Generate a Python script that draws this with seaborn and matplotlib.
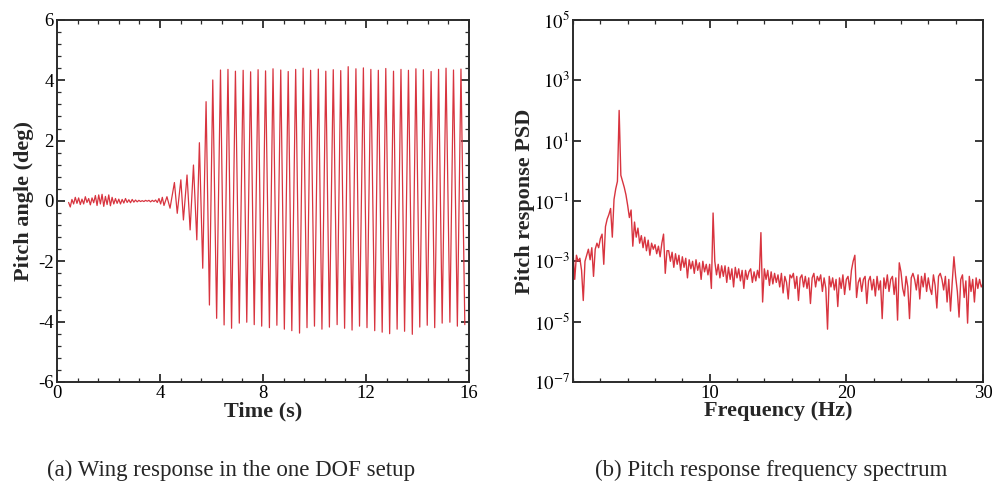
import numpy as np
import pandas as pd
import matplotlib
matplotlib.use("Agg")
import matplotlib.pyplot as plt
import seaborn as sns
from matplotlib.ticker import MultipleLocator, FixedLocator, FuncFormatter, NullLocator

# ---------------- (a) pitch time history ----------------
# small irregular motion before flutter onset, sampled every EARLY_DT seconds
EARLY_T0 = 0.45
EARLY_DT = 0.065
early_pitch = [
    -0.05, -0.20, 0.05, -0.10, 0.12, -0.08, 0.10, -0.12, 0.06, -0.10, 0.14, -0.05, 0.08, -0.13, 0.10,
    -0.06, 0.18, -0.15, 0.20, -0.10, 0.22, -0.18, 0.15, -0.12, 0.20, -0.16, 0.12, -0.10, 0.08,
    -0.08, 0.06, -0.10, 0.05, -0.07, 0.08, -0.05, 0.04, -0.06, 0.05, -0.04, 0.03,
    -0.03, 0.02, -0.02, 0.01, -0.02, 0.02, -0.01, 0.02, -0.03, 0.02, -0.02, 0.03,
    -0.05, 0.08, -0.10, 0.12, -0.15,
]

# successive peaks / troughs of the limit-cycle oscillation (s, deg)
osc_time = [
    4.27, 4.39, 4.56, 4.67, 4.81, 4.91, 5.05, 5.17, 5.30, 5.43, 5.53, 5.66, 5.79, 5.92, 6.05, 6.20,
    6.35, 6.49, 6.64, 6.78, 6.93, 7.08, 7.23, 7.37, 7.52, 7.66, 7.81, 7.95, 8.10, 8.25, 8.39, 8.54,
    8.69, 8.83, 8.98, 9.12, 9.27, 9.42, 9.56, 9.71, 9.85, 10.00, 10.15, 10.29, 10.44, 10.58, 10.73,
    10.88, 11.02, 11.17, 11.31, 11.46, 11.61, 11.75, 11.90, 12.04, 12.19, 12.34, 12.48, 12.63, 12.77,
    12.92, 13.07, 13.21, 13.36, 13.50, 13.65, 13.80, 13.94, 14.09, 14.23, 14.38, 14.53, 14.67, 14.82,
    14.96, 15.11, 15.26, 15.40, 15.55, 15.69, 15.84,
]
osc_pitch = [
    0.14, -0.24, 0.61, -0.41, 0.70, -0.63, 0.86, -0.96, 1.19, -1.29, 1.93, -2.23, 3.29, -3.45, 4.01, -3.89,
    4.34, -4.11, 4.36, -4.22, 4.30, -4.05, 4.33, -4.02, 4.28, -4.10, 4.35, -4.15, 4.31, -4.20, 4.38, -4.12,
    4.34, -4.25, 4.29, -4.30, 4.36, -4.38, 4.40, -4.20, 4.33, -4.15, 4.37, -4.25, 4.30, -4.18, 4.35,
    -4.10, 4.32, -4.22, 4.45, -4.28, 4.38, -4.15, 4.41, -4.20, 4.36, -4.30, 4.33, -4.35, 4.39,
    -4.40, 4.30, -4.25, 4.36, -4.32, 4.33, -4.42, 4.38, -4.18, 4.35, -4.12, 4.29, -4.20, 4.36,
    -4.05, 4.40, -4.02, 4.34, -4.15, 4.37, -4.10,
]

# ---------------- (b) pitch PSD (log10), bins of FREQ_STEP Hz from 0 Hz ----------------
FREQ_STEP = 0.125
psd_log10 = [
    -2.70, -3.60, -2.80, -3.00, -2.90, -3.30, -4.30, -3.00,   # 0 Hz
    -2.80, -2.60, -2.95, -2.55, -3.50, -2.60, -2.40, -2.55,   # 1
    -2.25, -2.10, -3.10, -1.85, -1.60, -1.45, -1.25, -2.20,   # 2
    -0.95, -0.60, -0.35, 2.00, -0.15, -0.35, -0.55, -0.80,    # 3
    -1.15, -1.55, -1.30, -2.50, -1.70, -2.20, -1.90, -2.40,   # 4
    -2.15, -2.55, -2.20, -2.65, -2.30, -2.80, -2.40, -2.60,   # 5
    -2.45, -2.75, -2.50, -2.85, -2.40, -2.10, -3.40, -2.65,   # 6
    -2.65, -3.00, -2.70, -3.20, -2.75, -3.10, -2.80, -3.30,   # 7
    -2.85, -3.20, -2.90, -3.55, -2.95, -3.25, -3.00, -3.40,   # 8
    -2.95, -3.30, -3.05, -3.60, -3.00, -3.35, -3.10, -3.45,   # 9
    -3.10, -3.90, -1.40, -3.00, -3.45, -3.10, -3.55, -3.15,   # 10
    -3.50, -3.15, -3.70, -3.20, -3.60, -3.25, -3.85, -3.20,   # 11
    -3.55, -3.25, -3.65, -3.30, -3.90, -3.30, -3.60, -3.35,   # 12
    -3.25, -3.70, -3.35, -3.65, -3.30, -3.55, -2.05, -4.35,   # 13
    -3.25, -3.60, -3.30, -3.80, -3.35, -3.75, -3.40, -3.70,   # 14
    -3.45, -3.85, -3.40, -4.05, -3.50, -3.70, -4.25, -3.45,   # 15
    -3.55, -3.40, -3.90, -3.50, -4.30, -3.55, -3.45, -3.85,   # 16
    -3.50, -3.90, -3.55, -4.40, -3.55, -3.40, -3.85, -3.50,   # 17
    -3.65, -3.45, -4.00, -3.55, -3.90, -5.25, -3.50, -3.85,   # 18
    -3.55, -3.95, -3.60, -4.50, -3.55, -3.90, -3.45, -4.10,   # 19
    -3.60, -3.50, -3.95, -3.30, -3.00, -2.80, -4.20, -3.70,   # 20
    -3.55, -4.00, -3.60, -3.50, -4.40, -3.65, -3.50, -3.95,   # 21
    -3.60, -4.15, -3.50, -3.95, -3.65, -4.90, -3.55, -3.90,   # 22
    -3.45, -4.00, -3.60, -3.50, -4.10, -3.55, -4.95, -3.05,   # 23
    -3.35, -3.90, -4.15, -3.50, -3.85, -4.90, -3.55, -3.40,   # 24
    -3.60, -3.95, -3.45, -4.25, -3.50, -3.85, -3.40, -4.00,   # 25
    -3.55, -3.90, -4.10, -3.45, -3.80, -4.55, -3.50, -3.40,   # 26
    -3.60, -3.95, -3.50, -4.35, -3.60, -4.65, -3.70, -2.85,   # 27
    -3.50, -4.00, -4.85, -3.60, -3.45, -4.20, -3.65, -5.05,   # 28
    -3.50, -4.00, -3.60, -4.35, -3.55, -3.90, -3.60, -3.85,   # 29
    -3.75,
]

LINE_RED = "#d8343f"
AX_COL = "#2b2b2b"

sns.set_style("ticks")
plt.rcParams["font.family"] = ["Liberation Serif", "DejaVu Serif"]
plt.rcParams["mathtext.fontset"] = "stix"
plt.rcParams["axes.unicode_minus"] = False

fig = plt.figure(figsize=(9.95, 4.98), dpi=100)
ax1 = fig.add_axes([0.0573, 0.233, 0.414, 0.727])
ax2 = fig.add_axes([0.5759, 0.233, 0.412, 0.727])

# time history
early_t = EARLY_T0 + EARLY_DT * np.arange(len(early_pitch))
ts = pd.DataFrame({
    "time_s": np.concatenate([early_t, osc_time]),
    "pitch_deg": np.concatenate([early_pitch, osc_pitch]),
})
sns.lineplot(data=ts, x="time_s", y="pitch_deg", ax=ax1, sort=False, estimator=None,
             color=LINE_RED, lw=0.9)

# spectrum
psd = pd.DataFrame({
    "freq_hz": FREQ_STEP * np.arange(len(psd_log10)),
    "psd": np.power(10.0, psd_log10),
})
sns.lineplot(data=psd, x="freq_hz", y="psd", ax=ax2, sort=False, estimator=None,
             color=LINE_RED, lw=1.0)
ax2.set_yscale("log")

LABEL_FS = 16
TICK_FS = 13.5

ax1.set_xlim(0, 16)
ax1.set_ylim(-6, 6)
ax1.xaxis.set_major_locator(MultipleLocator(4))
ax1.xaxis.set_minor_locator(MultipleLocator(0.8))
ax1.yaxis.set_major_locator(MultipleLocator(2))
ax1.yaxis.set_minor_locator(MultipleLocator(0.4))
ax1.set_xlabel("Time (s)", fontsize=LABEL_FS, fontweight="bold")
ax1.set_ylabel("Pitch angle (deg)", fontsize=LABEL_FS, fontweight="bold")

ax2.set_xlim(0, 30)
ax2.set_ylim(1e-7, 1e5)
ax2.xaxis.set_major_locator(FixedLocator([10, 20, 30]))
ax2.xaxis.set_minor_locator(MultipleLocator(2))
ax2.yaxis.set_major_locator(FixedLocator([10.0 ** k for k in range(-7, 6, 2)]))
ax2.yaxis.set_minor_locator(NullLocator())
ax2.yaxis.set_major_formatter(FuncFormatter(lambda v, _: r"$10^{%d}$" % round(np.log10(v))))
ax2.set_xlabel("Frequency (Hz)", fontsize=LABEL_FS, fontweight="bold")
ax2.set_ylabel("Pitch response PSD", fontsize=LABEL_FS, fontweight="bold")

ax1.xaxis.set_label_coords(0.5, -0.053)
ax2.xaxis.set_label_coords(0.5, -0.053)
ax1.yaxis.set_label_coords(-0.057, 0.5)
ax2.yaxis.set_label_coords(-0.092, 0.5)

for ax in (ax1, ax2):
    for sp in ax.spines.values():
        sp.set_visible(True)
        sp.set_linewidth(1.4)
        sp.set_color(AX_COL)
    ax.tick_params(which="both", direction="in", top=True, right=True, colors=AX_COL,
                   labelcolor="black", labelsize=TICK_FS)
    ax.tick_params(which="major", length=6, width=1.3, pad=2.5)
    ax.tick_params(which="minor", length=3, width=0.9)

fig.text(0.232, 0.056, "(a) Wing response in the one DOF setup", ha="center", va="center",
         fontsize=16.5)
fig.text(0.775, 0.056, "(b) Pitch response frequency spectrum", ha="center", va="center",
         fontsize=16.5)

fig.savefig("out.png", dpi=100, facecolor="white")
